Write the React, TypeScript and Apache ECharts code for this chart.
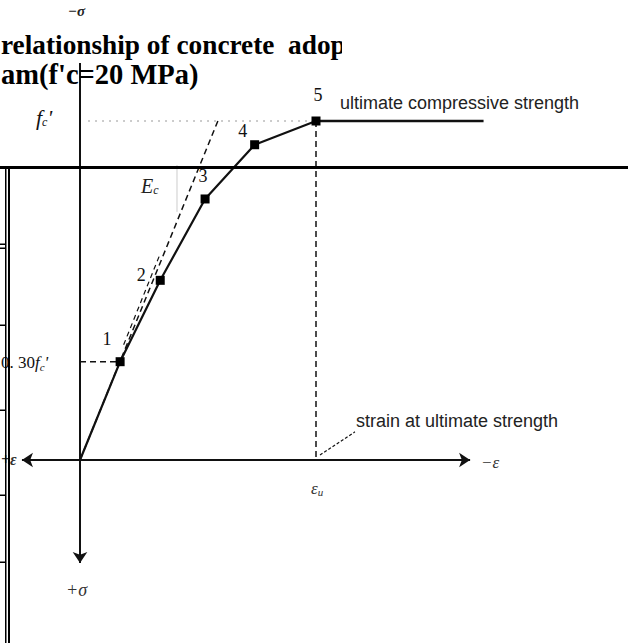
import React, { useEffect, useRef } from "react";
import * as echarts from "echarts";

// Stress-strain curve (strain normalised to strain at ultimate strength, stress normalised to f'c)
const curveStrain = [0, 0.17, 0.34, 0.53, 0.74, 1.0];
const curveStress = [0, 0.29, 0.53, 0.77, 0.93, 1.0];
const pointNames = ["", "1", "2", "3", "4", "5"];
const pointLabelOffsets = [
  [0, 0],
  [-13, -23],
  [-19, -5],
  [-2, -23],
  [-12, -14],
  [2, -26],
];
const plateauStrain = [1.0, 1.71];
const plateauStress = [1.0, 1.0];
const tangentStrain = [0, 0.59];
const tangentStress = [0, 1.01];
const tangent2Strain = [0.185, 0.335];
const tangent2Stress = [0.34, 0.6];
const proportionalStress = 0.29; // 0.30 f'c
const peakStrain = 1.0;
const peakStress = 1.0;
const fcGuideStrain = [0.034, 1.0];
const ecMarkStrain = [0.411, 0.411];
const ecMarkStress = [0.87, 0.732];
const leaderStrain = [1.017, 1.165];
const leaderStress = [0.015, 0.083];
const axisNegStrain = -0.246;
const axisPosStrain = 1.653;
const axisTopStress = 1.171;
const axisBottomStress = -0.304;

const titleLines = ["relationship of concrete  adop", "am(f'c=20 MPa)"];

export default function App() {
  const ref = useRef<HTMLDivElement>(null);
  useEffect(() => {
    document.body.style.margin = "0";
    const chart = echarts.init(ref.current!, null, { renderer: "svg" });
    const pts = curveStrain.map((x, i) => ({
      value: [x, curveStress[i]],
      symbol: i === 0 ? "none" : "rect",
      label: {
        show: i > 0,
        formatter: pointNames[i],
        position: "inside",
        offset: pointLabelOffsets[i],
        color: "#111",
        fontFamily: "Liberation Serif",
        fontSize: 18,
      },
    }));
    const seg = (xs: number[], ys: number[]) => xs.map((x, i) => [x, ys[i]]);
    const dashed = (data: number[][], width = 1.5, type: any = [6, 4], color = "#111") => ({
      type: "line",
      data,
      symbol: "none",
      silent: true,
      lineStyle: { color, width, type },
      z: 2,
    });
    chart.setOption({
      animation: false,
      grid: { left: 0, right: 0, top: 0, bottom: 0 },
      xAxis: {
        type: "value",
        min: -80 / 236,
        max: 548 / 236,
        show: false,
      },
      yAxis: {
        type: "value",
        min: -183 / 339,
        max: 460 / 339,
        show: false,
      },
      series: [
        {
          type: "lines",
          coordinateSystem: "cartesian2d",
          symbol: ["none", "arrow"],
          symbolSize: 11,
          lineStyle: { color: "#111", width: 2, opacity: 1 },
          data: [
            { coords: [[0, axisTopStress], [0, axisBottomStress]] },
            { coords: [[0, 0], [axisNegStrain, 0]] },
            { coords: [[0, 0], [axisPosStrain, 0]] },
          ],
          z: 1,
        },
        dashed(seg(fcGuideStrain, [peakStress, peakStress]), 1.5, [2, 5], "#bbb"),
        dashed([[peakStrain, peakStress], [peakStrain, 0]]),
        dashed([[0, proportionalStress], [curveStrain[1], proportionalStress]]),
        dashed(seg(tangentStrain, tangentStress)),
        dashed(seg(tangent2Strain, tangent2Stress), 1.2, [5, 4]),
        dashed(seg(ecMarkStrain, ecMarkStress), 1, "solid", "#ccc"),
        dashed(seg(leaderStrain, leaderStress), 1.2, [3, 2]),
        {
          type: "line",
          data: seg(plateauStrain, plateauStress),
          symbol: "none",
          lineStyle: { color: "#111", width: 2.5 },
          z: 3,
        },
        {
          type: "line",
          data: pts,
          symbolSize: 9,
          itemStyle: { color: "#000" },
          lineStyle: { color: "#111", width: 2.2 },
          z: 4,
        },
      ],
      graphic: [
        // title
        {
          type: "text",
          left: 1,
          top: 31,
          z: 10,
          style: {
            text: titleLines[0],
            font: "bold 27.3px 'Liberation Serif'",
            fill: "#000",
          },
        },
        {
          type: "text",
          left: 1,
          top: 60,
          z: 10,
          style: {
            text: titleLines[1],
            font: "bold 28.5px 'Liberation Serif'",
            fill: "#000",
          },
        },
        { type: "rect", z: 11, shape: { x: 342, y: 26, width: 286, height: 38 }, style: { fill: "#fff" } },
        // axis labels
        {
          type: "text",
          x: 68,
          y: 3,
          style: { text: "−σ", font: "italic bold 15px 'Liberation Serif'", fill: "#222" },
        },
        {
          type: "text",
          x: 66,
          y: 581,
          style: { text: "+σ", font: "italic 18px 'Liberation Serif'", fill: "#333" },
        },
        {
          type: "text",
          x: 1,
          y: 451,
          style: { text: "+ε", font: "italic bold 16px 'Liberation Serif'", fill: "#333" },
        },
        {
          type: "text",
          x: 481,
          y: 454,
          style: { text: "−ε", font: "italic 17px 'Liberation Serif'", fill: "#333" },
        },
        {
          type: "text",
          x: 36,
          y: 106,
          style: {
            text: "{f|f}{s|c}{f|'}",
            rich: {
              f: { font: "italic 22px 'Liberation Serif'", fill: "#111" },
              s: { font: "italic 12px 'Liberation Serif'", fill: "#111", padding: [10, 0, 0, 0] },
            },
          },
        },
        {
          type: "text",
          x: 1,
          y: 353,
          style: {
            text: "{n|0. 30}{f|f}{s|c}{f|'}",
            rich: {
              n: { font: "17px 'Liberation Serif'", fill: "#111" },
              f: { font: "italic 17px 'Liberation Serif'", fill: "#111" },
              s: { font: "italic 11px 'Liberation Serif'", fill: "#111", padding: [8, 0, 0, 0] },
            },
          },
        },
        {
          type: "text",
          x: 141,
          y: 175,
          style: {
            text: "{f|E}{s|c}",
            rich: {
              f: { font: "italic 20px 'Liberation Serif'", fill: "#222" },
              s: { font: "italic 12px 'Liberation Serif'", fill: "#222", padding: [9, 0, 0, 0] },
            },
          },
        },
        {
          type: "text",
          x: 311,
          y: 479,
          style: {
            text: "{f|ε}{s|u}",
            rich: {
              f: { font: "italic 17px 'Liberation Serif'", fill: "#333" },
              s: { font: "italic 11px 'Liberation Serif'", fill: "#333", padding: [7, 0, 0, 0] },
            },
          },
        },
        {
          type: "text",
          x: 340,
          y: 94,
          style: { text: "ultimate compressive strength", font: "18px 'Liberation Sans'", fill: "#222" },
        },
        {
          type: "text",
          x: 356,
          y: 412,
          style: { text: "strain at ultimate strength", font: "18px 'Liberation Sans'", fill: "#222" },
        },
        // table borders
        { type: "rect", z: 12, shape: { x: 0, y: 166, width: 628, height: 3 }, style: { fill: "#000" } },
        { type: "rect", z: 12, shape: { x: 5, y: 166, width: 1.5, height: 477 }, style: { fill: "#000" } },
        { type: "rect", z: 12, shape: { x: 8, y: 166, width: 2, height: 477 }, style: { fill: "#000" } },
        { type: "rect", z: 12, shape: { x: 0, y: 243.5, width: 6, height: 1.5 }, style: { fill: "#000" } },
        { type: "rect", z: 12, shape: { x: 0, y: 247.5, width: 6, height: 1.5 }, style: { fill: "#000" } },
        { type: "rect", z: 12, shape: { x: 0, y: 324.5, width: 6, height: 1.5 }, style: { fill: "#000" } },
        { type: "rect", z: 12, shape: { x: 0, y: 409.5, width: 6, height: 1.5 }, style: { fill: "#000" } },
        { type: "rect", z: 12, shape: { x: 0, y: 494.5, width: 6, height: 1.5 }, style: { fill: "#000" } },
        { type: "rect", z: 12, shape: { x: 0, y: 561.5, width: 6, height: 1.5 }, style: { fill: "#000" } },
      ],
    });
    return () => chart.dispose();
  }, []);
  return <div ref={ref} style={{ width: 628, height: 643 }} />;
}
